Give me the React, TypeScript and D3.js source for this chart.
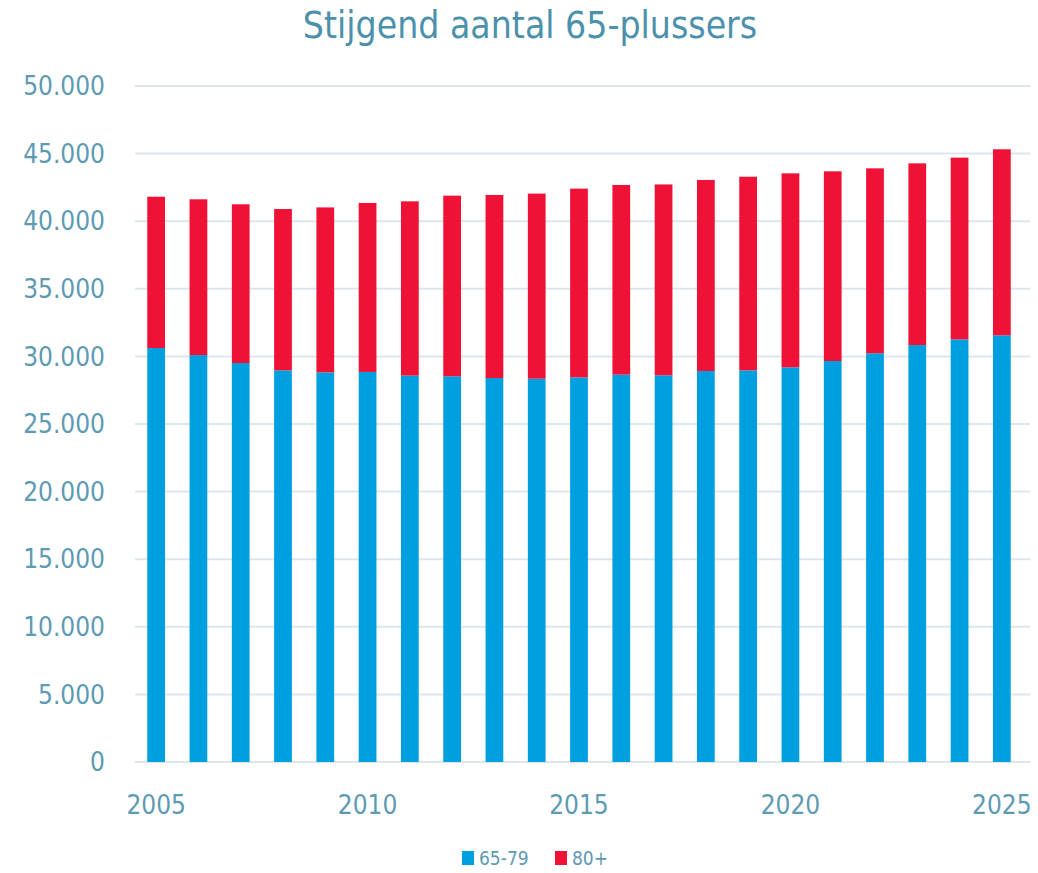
import { useMemo } from "react";
import * as d3 from "d3";

const years = [
  2005, 2006, 2007, 2008, 2009, 2010, 2011, 2012, 2013, 2014, 2015,
  2016, 2017, 2018, 2019, 2020, 2021, 2022, 2023, 2024, 2025,
];
const age65to79 = [
  30620, 30100, 29510, 28970, 28820, 28850, 28580, 28530, 28400, 28350, 28450,
  28650, 28600, 28920, 28970, 29190, 29660, 30230, 30840, 31260, 31560,
];
const age80plus = [
  11190, 11520, 11740, 11930, 12200, 12500, 12890, 13360, 13540, 13690, 13960,
  14030, 14120, 14130, 14320, 14350, 14030, 13680, 13440, 13440, 13760,
];
const seriesNames = ["65-79", "80+"];
const seriesColors = ["#009fdf", "#f01236"];
const yTicks = [0, 5000, 10000, 15000, 20000, 25000, 30000, 35000, 40000, 45000, 50000];
const xLabels = [2005, 2010, 2015, 2020, 2025];

const W = 1038;
const H = 873;
const margin = { top: 86, right: 15, bottom: 111, left: 135 };
const gridRight = 1030;
const font = "'Liberation Sans Narrow', 'DejaVu Sans Condensed', 'Open Sans', sans-serif";
const textColor = "#5d9ab3";

const fmt = (v: number) =>
  v === 0 ? "0" : d3.format(",")(v).replace(/,/g, ".");

const App = () => {
  const x = d3
    .scaleBand<number>()
    .domain(years)
    .range([margin.left, W - margin.right])
    .paddingInner(0.58)
    .paddingOuter(0.29);
  const y = d3
    .scaleLinear()
    .domain([0, 50000])
    .range([H - margin.bottom, margin.top]);

  const stacked = useMemo(() => {
    const rows = years.map((yr, i) => ({ year: yr, a: age65to79[i], b: age80plus[i] }));
    return d3.stack<any>().keys(["a", "b"])(rows);
  }, []);

  return (
    <svg width={W} height={H} style={{ display: "block", position: "absolute", left: 0, top: 0 }}>
      <rect width={W} height={H} fill="#fff" />
      <text
        x={530}
        y={38}
        textAnchor="middle"
        fontFamily={font}
        fontSize={37}
        fill="#4b91ab"
      >
        Stijgend aantal 65-plussers
      </text>

      {yTicks.map((t) => (
        <g key={t}>
          <line
            x1={margin.left}
            x2={gridRight}
            y1={y(t)}
            y2={y(t)}
            stroke="#dbe7ed"
            strokeWidth={2}
          />
          <text
            x={105}
            y={y(t)}
            dy="0.35em"
            textAnchor="end"
            fontFamily={font}
            fontSize={26}
            fill={textColor}
          >
            {fmt(t)}
          </text>
        </g>
      ))}

      {stacked.map((s, si) => (
        <g key={si} fill={seriesColors[si]}>
          {s.map((d: any, i: number) => (
            <rect
              key={i}
              x={x(years[i])}
              width={x.bandwidth()}
              y={y(d[1])}
              height={y(d[0]) - y(d[1])}
            />
          ))}
        </g>
      ))}

      {xLabels.map((yr) => (
        <text
          key={yr}
          x={(x(yr) as number) + x.bandwidth() / 2}
          y={814}
          textAnchor="middle"
          fontFamily={font}
          fontSize={26}
          fill={textColor}
        >
          {yr}
        </text>
      ))}

      <g transform="translate(462,858)">
        {seriesNames.map((n, i) => (
          <g key={n} transform={`translate(${i * 93},0)`}>
            <rect x={0} y={-7} width={12} height={14} fill={seriesColors[i]} />
            <text
              x={17}
              y={0}
              dy="0.35em"
              fontFamily={font}
              fontSize={19}
              fill={textColor}
            >
              {n}
            </text>
          </g>
        ))}
      </g>
    </svg>
  );
};

export default App;
